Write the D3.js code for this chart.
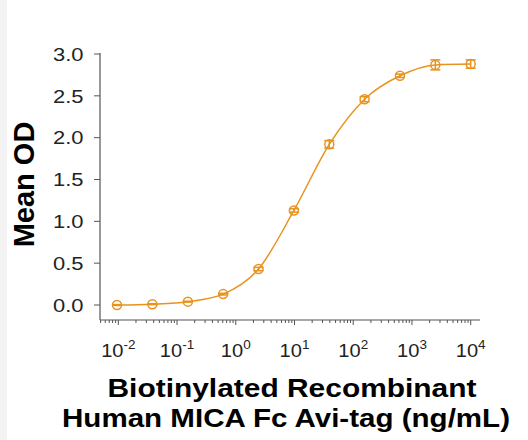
<!DOCTYPE html>
<html><head><meta charset="utf-8">
<script src="https://cdn.jsdelivr.net/npm/d3@7"></script>
<style>html,body{margin:0;padding:0;background:#fff;}svg{display:block;font-family:"Liberation Sans",Arial,sans-serif;}</style>
</head><body>
<svg id="c" width="528" height="440"></svg>
<script>
const conc = [0.0095, 0.038, 0.153, 0.61, 2.44, 9.77, 39.1, 156, 625, 2500, 10000];
const meanOD = [0.00, 0.01, 0.04, 0.13, 0.43, 1.13, 1.92, 2.46, 2.74, 2.87, 2.88];
const errOD = [0.005, 0.005, 0.005, 0.01, 0.02, 0.02, 0.045, 0.03, 0.02, 0.06, 0.05];
const yTicks = [0, 0.5, 1.0, 1.5, 2.0, 2.5, 3.0];
const xDecades = [-2, -1, 0, 1, 2, 3, 4];
const yTitle = "Mean OD";
const xTitle = ["Biotinylated Recombinant", "Human MICA Fc Avi-tag (ng/mL)"];

const color = "#E8931F";
const axisColor = "#555";
const svg = d3.select("#c");
svg.append("rect").attr("x",0).attr("y",0).attr("width",7).attr("height",440).attr("fill","#f3f3f3");

const x = d3.scaleLog().domain([1e-2, 1e4]).range([118.3, 470.7]);
const y = d3.scaleLinear().domain([0, 3]).range([305, 54]);
const axL = 100, axR = 480, axB = 320, axT = 53;

// axis lines
svg.append("line").attr("x1",axL).attr("x2",axL).attr("y1",axT).attr("y2",axB).attr("stroke",axisColor).attr("stroke-width",1.2);
svg.append("line").attr("x1",axL).attr("x2",axR).attr("y1",axB).attr("y2",axB).attr("stroke",axisColor).attr("stroke-width",1.2);

// y ticks
const gy = svg.append("g");
yTicks.forEach(v => {
  gy.append("line").attr("x1",axL-6).attr("x2",axL).attr("y1",y(v)).attr("y2",y(v)).attr("stroke",axisColor).attr("stroke-width",1);
  gy.append("text").attr("x",83.5).attr("y",y(v)).attr("dy","0.36em").attr("text-anchor","end")
    .attr("font-size",18.6).attr("fill","#222")
    .attr("textLength",30.5).attr("lengthAdjust","spacingAndGlyphs")
    .text(d3.format(".1f")(v));
});

// x ticks (major + minor)
const gx = svg.append("g");
const minorVals = [];
for (let k = -3; k <= 4; k++) for (let m = 2; m <= 9; m++) minorVals.push(m * Math.pow(10, k));
minorVals.filter(v => x(v) >= axL && x(v) <= axR).forEach(v => {
  gx.append("line").attr("x1",x(v)).attr("x2",x(v)).attr("y1",axB).attr("y2",axB+3).attr("stroke",axisColor).attr("stroke-width",1);
});
xDecades.forEach(d => {
  const px = x(Math.pow(10, d));
  gx.append("line").attr("x1",px).attr("x2",px).attr("y1",axB).attr("y2",axB+5).attr("stroke",axisColor).attr("stroke-width",1);
  const t = gx.append("text").attr("transform",`translate(${px},356.7) scale(1.08,1)`)
    .attr("text-anchor","middle").attr("fill","#222").attr("font-size",18.6);
  t.append("tspan").text("10");
  t.append("tspan").attr("dy",-8).attr("font-size",12.5).text(String(d));
});

// curve
const pts = conc.map((c, i) => [x(c), y(meanOD[i])]);
svg.append("path").attr("d", d3.line().curve(d3.curveMonotoneX)(pts))
  .attr("fill","none").attr("stroke",color).attr("stroke-width",1.5);

// error bars
const eb = svg.append("g").attr("stroke",color).attr("stroke-width",1.5);
conc.forEach((c, i) => {
  const px = x(c), y1 = y(meanOD[i] - errOD[i]), y2 = y(meanOD[i] + errOD[i]);
  eb.append("line").attr("x1",px).attr("x2",px).attr("y1",y1).attr("y2",y2);
  eb.append("line").attr("x1",px-5).attr("x2",px+5).attr("y1",y1).attr("y2",y1);
  eb.append("line").attr("x1",px-5).attr("x2",px+5).attr("y1",y2).attr("y2",y2);
});

// markers
svg.append("g").selectAll("circle").data(conc).join("circle")
  .attr("cx", d => x(d)).attr("cy", (d, i) => y(meanOD[i])).attr("r", 4.5)
  .attr("fill","none").attr("stroke",color).attr("stroke-width",1.5);

// titles
svg.append("text").attr("transform","translate(33.5,184.5) rotate(-90)").attr("text-anchor","middle")
  .attr("font-size",29).attr("font-weight","bold").attr("fill","#000").text(yTitle);
svg.append("text").attr("x",107.5).attr("y",396.5).attr("text-anchor","start")
  .attr("font-size",26).attr("font-weight","bold").attr("fill","#000")
  .attr("textLength",369).attr("lengthAdjust","spacingAndGlyphs").text(xTitle[0]);
svg.append("text").attr("x",62).attr("y",426.5).attr("text-anchor","start")
  .attr("font-size",26).attr("font-weight","bold").attr("fill","#000")
  .attr("textLength",448).attr("lengthAdjust","spacingAndGlyphs").text(xTitle[1]);
</script>
</body></html>
